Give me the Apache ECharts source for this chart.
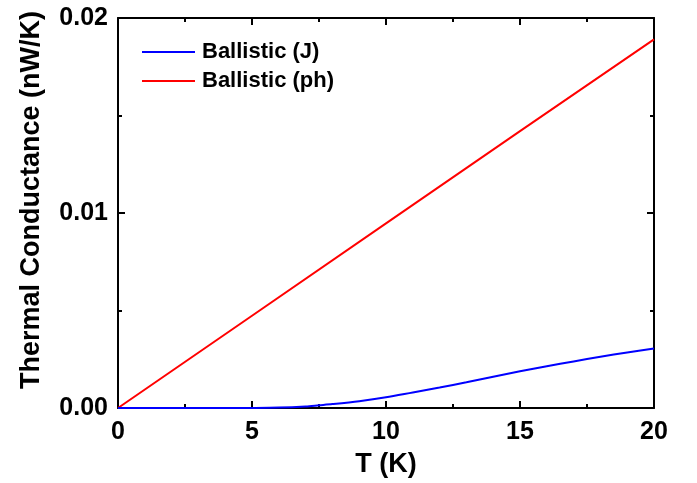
<!DOCTYPE html>
<html><head><meta charset="utf-8">
<script src="https://cdn.jsdelivr.net/npm/echarts@6/dist/echarts.min.js"></script>
<style>html,body{margin:0;padding:0;background:#fff}#c{width:697px;height:483px}</style>
</head><body><div id="c"></div>
<script>
const tJ = [0, 1, 2, 3, 4, 5, 6, 7, 7.5, 8, 9, 10, 11, 12, 13, 14, 15, 16, 17, 18, 19, 20];
const gJ = [0, 0, 0, 0, 0, 0.000003, 0.00002, 0.00008, 0.00014, 0.0002, 0.00035, 0.00055, 0.0008, 0.00105, 0.00132, 0.0016, 0.00188, 0.00214, 0.00239, 0.00263, 0.00285, 0.00305];
const tPh = [0, 5, 10, 15, 20];
const gPh = [0, 0.00473, 0.00947, 0.0142, 0.0189];
const names = ['Ballistic (J)', 'Ballistic (ph)'];
const FONT = 'Liberation Sans';
const chart = echarts.init(document.getElementById('c'));
function axisCommon() {
  return {
    axisLine: {show: true, onZero: false, lineStyle: {color: '#000', width: 2}},
    axisTick: {show: true, inside: true, length: 7, lineStyle: {color: '#000', width: 2}},
    minorTick: {show: true, splitNumber: 2, length: 4, lineStyle: {color: '#000', width: 2}},
    splitLine: {show: false}
  };
}
chart.setOption({
  animation: false,
  grid: {left: 118, right: 43, top: 18, bottom: 74},
  legend: {
    orient: 'vertical', left: 137, top: 36, itemWidth: 53, itemHeight: 2, itemGap: 7,
    icon: 'rect',
    textStyle: {fontFamily: FONT, fontWeight: 'bold', fontSize: 22, color: '#000', padding: [0, 0, 0, 2]},
    data: names
  },
  xAxis: [
    Object.assign({type: 'value', min: 0, max: 20, interval: 5,
      name: 'T (K)', nameLocation: 'middle', nameGap: 43,
      nameTextStyle: {fontFamily: FONT, fontWeight: 'bold', fontSize: 27, color: '#000', verticalAlign: 'top'},
      axisLabel: {fontFamily: FONT, fontWeight: 'bold', fontSize: 25, color: '#000', margin: 12}}, axisCommon()),
    Object.assign({type: 'value', min: 0, max: 20, interval: 5, position: 'top',
      axisLabel: {show: false}}, axisCommon())
  ],
  yAxis: [
    Object.assign({type: 'value', min: 0, max: 0.02, interval: 0.01,
      name: 'Thermal Conductance (nW/K)', nameLocation: 'middle', nameGap: 73,
      nameTextStyle: {fontFamily: FONT, fontWeight: 'bold', fontSize: 27, color: '#000', verticalAlign: 'bottom', padding: [0, 0, 0, 26]},
      axisLabel: {fontFamily: FONT, fontWeight: 'bold', fontSize: 25, color: '#000', margin: 10,
        formatter: v => v.toFixed(2)}}, axisCommon()),
    Object.assign({type: 'value', min: 0, max: 0.02, interval: 0.01, position: 'right',
      axisLabel: {show: false}}, axisCommon())
  ],
  series: [
    {name: names[0], type: 'line', symbol: 'none', smooth: 0.3, data: tJ.map((t, i) => [t, gJ[i]]),
      lineStyle: {color: '#0000ff', width: 2}, itemStyle: {color: '#0000ff'}, z: 3},
    {name: names[1], type: 'line', symbol: 'none', data: tPh.map((t, i) => [t, gPh[i]]),
      lineStyle: {color: '#ff0000', width: 2}, itemStyle: {color: '#ff0000'}, z: 2}
  ]
});
</script></body></html>
